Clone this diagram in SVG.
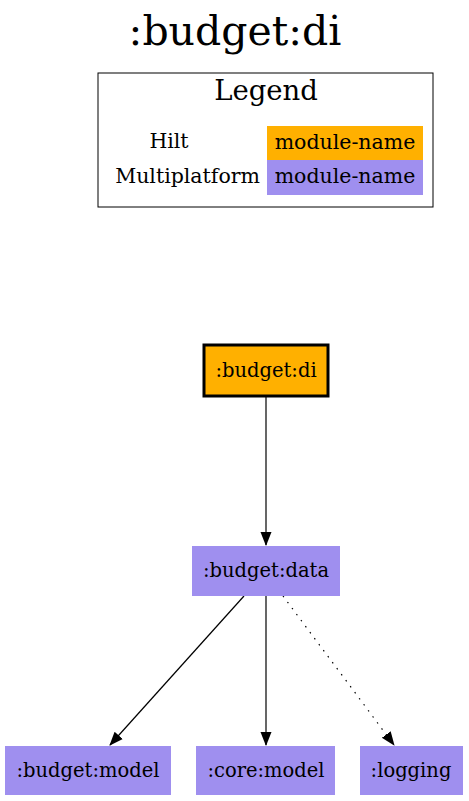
<svg xmlns="http://www.w3.org/2000/svg" width="469" height="801" viewBox="0 0 469 801">
<style>
text{font-family:"DejaVu Serif","Liberation Serif",serif;fill:#000}
.n{font-size:19.5px;text-anchor:middle}
.l{font-size:20.5px}
.mp{fill:#9f8fef;stroke:#9f8fef}
.e{stroke:#000;stroke-width:1.2;fill:none}
</style>
<defs>
<marker id="a" markerWidth="14" markerHeight="14" refX="13" refY="7" orient="auto" markerUnits="userSpaceOnUse"><path d="M0,1.5 L14,7 L0,12.5 Z" fill="#000"/></marker>
</defs>
<rect width="469" height="801" fill="#fff"/>
<text x="235" y="45" font-size="41" text-anchor="middle">:budget:di</text>
<g id="legend">
<rect x="98" y="73" width="335" height="134" fill="none" stroke="#000"/>
<text x="266" y="100" font-size="27.5" text-anchor="middle">Legend</text>
<text x="169" y="148" class="l" text-anchor="middle">Hilt</text>
<text x="260" y="183" class="l" text-anchor="end">Multiplatform</text>
<rect x="267" y="126" width="156" height="34" fill="#ffb000"/>
<rect x="267" y="160" width="156" height="35" fill="#9f8fef"/>
<text x="345" y="149" class="l" text-anchor="middle">module-name</text>
<text x="345" y="183" class="l" text-anchor="middle">module-name</text>
</g>
<g id="connectors">
<line class="e" x1="266" y1="397" x2="266" y2="545" marker-end="url(#a)"/>
<line class="e" x1="244" y1="596" x2="110" y2="745" marker-end="url(#a)"/>
<line class="e" x1="266" y1="596" x2="266" y2="745" marker-end="url(#a)"/>
<line class="e" x1="283" y1="596" x2="394" y2="745" stroke-dasharray="1.5,6" marker-end="url(#a)"/>
</g>
<g id="budget-di">
<rect x="204" y="345" width="124" height="51" fill="#ffb000" stroke="#000" stroke-width="3"/>
<text x="266" y="377" class="n">:budget:di</text>
</g>
<g id="budget-data">
<rect class="mp" x="192.5" y="546.5" width="147" height="49"/>
<text x="266" y="577" class="n">:budget:data</text>
</g>
<g id="budget-model">
<rect class="mp" x="5.5" y="746.5" width="165" height="48"/>
<text x="88" y="777" class="n">:budget:model</text>
</g>
<g id="core-model">
<rect class="mp" x="196.5" y="746.5" width="138" height="48"/>
<text x="266" y="777" class="n">:core:model</text>
</g>
<g id="logging">
<rect class="mp" x="360.5" y="746.5" width="102" height="48"/>
<text x="411" y="777" class="n">:logging</text>
</g>
</svg>
